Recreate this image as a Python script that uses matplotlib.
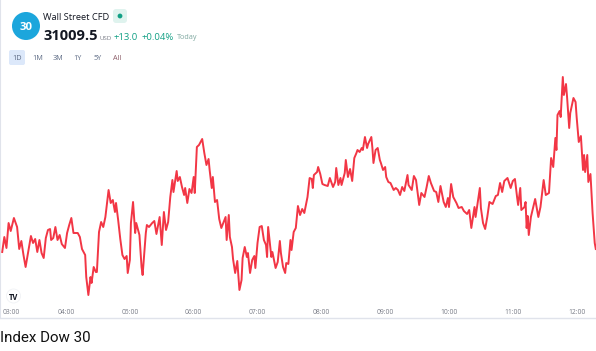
import matplotlib
matplotlib.use('Agg')
import matplotlib.pyplot as plt
from matplotlib.patches import Circle, FancyBboxPatch

# minutes after 03:00
times = [0,2,4,6,8,11,14,16,18,20,22,25,27,29,31,33,35,37,39,41,43,45,46,48,50,52,54,56,59,61,63,65,67,71,73,75,78,79,81,83,84,86,88,89,91,93,95,97,98,100,
         102,104,106,107,109,111,113,115,117,118,120,121,123,125,126,129,131,132,135,136,138,141,143,145,148,150,152,154,156,158,160,161,164,165,167,169,171,172,174,176,178,180,181,183,185,188,190,192,194,195,
         197,198,200,202,204,206,210,211,213,214,216,217,219,221,223,225,226,228,230,231,233,235,237,238,240,242,244,246,248,249,250,251,253,254,257,259,261,262,264,266,267,269,271,272,274,276,278,280,282,284,
         287,289,291,292,293,296,297,299,301,303,306,308,309,311,313,314,316,318,319,322,323,325,327,329,331,333,334,336,338,339,341,343,344,347,348,349,351,353,355,356,358,360,361,363,365,368,370,372,374,376,
         378,381,382,385,387,389,392,394,397,399,401,403,406,408,410,412,415,417,419,420,422,424,427,429,432,434,437,439,441,444,445,449,450,452,454,456,458,461,464,466,468,470,472,475,478,480,482,484,485,487,
         488,491,492,493,494,495,497,499,501,504,506,509,511,514,516,518,520,521,522,524,525,527,528,530,531,533,534,537,539,540,542,544,546,547,548,550,551,553,555,557,558]
prices = [31006,31021,31010,31035,31027,31040,31031,31009,31017,31003,30991,31010,31022,31015,31019,31006,31018,31005,31000,31020,31028,31029,31018,31020,31031,31018,31023,31014,31010,31025,31033,31040,31025,31025,31021,31009,31003,30981,30963,30981,30975,30991,30986,30986,31026,31036,31031,31041,31050,31068,
          31055,31058,31046,31055,31038,31019,31003,30999,31002,30985,30998,31035,31056,31025,31035,31023,30991,30983,31025,31033,31031,31035,31037,31024,31041,31013,31046,31028,31036,31061,31078,31066,31087,31077,31081,31071,31063,31070,31055,31069,31065,31081,31065,31111,31113,31119,31105,31093,31099,31088,
          31070,31081,31056,31058,31039,31030,31041,31018,31043,31021,31011,30999,30985,30997,30968,30978,31000,31011,31001,31005,30985,30998,31002,30990,31015,31031,31032,31018,31013,31001,31031,31021,31001,31006,30990,30996,31017,31005,30991,30985,30995,30994,31018,31008,31026,31030,31052,31043,31049,31045,
          31061,31080,31079,31070,31083,31086,31091,31084,31074,31073,31072,31080,31077,31071,31076,31090,31073,31080,31073,31085,31098,31081,31089,31077,31100,31105,31108,31106,31110,31108,31121,31110,31114,31121,31110,31095,31108,31110,31098,31095,31088,31091,31081,31076,31075,31068,31070,31068,31063,31071,
          31067,31083,31073,31068,31082,31078,31053,31065,31061,31071,31082,31075,31067,31066,31056,31072,31056,31051,31060,31051,31074,31061,31055,31050,31051,31047,31044,31048,31030,31051,31041,31070,31050,31035,31029,31041,31056,31054,31062,31063,31075,31066,31077,31080,31070,31077,31079,31061,31053,31070,
          31048,31051,31056,31030,31042,31023,31041,31050,31059,31041,31051,31078,31063,31065,31100,31091,31120,31108,31143,31147,31141,31181,31163,31174,31161,31130,31145,31160,31156,31141,31116,31122,31088,31103,31086,31103,31076,31084,31045,31015,31009]
tick_times = [0,60,120,180,240,300,360,420,480,540]
tick_labels = ['03:00','04:00','05:00','06:00','07:00','08:00','09:00','10:00','11:00','12:00']
range_buttons = ['1D','1M','3M','1Y','5Y','All']

W, H = 596, 351
fig = plt.figure(figsize=(W/100, H/100), dpi=100)
plt.rcParams['font.family'] = ['Open Sans', 'DejaVu Sans']

ax = fig.add_axes([0, (H-318)/H, 1, 318/H])
ax.plot(times, prices, color='#F23645', lw=1.4, solid_joinstyle='round')
ax.set_xlim(-2.07, 558.2)
ax.set_ylim(30940, 31258)
for s in ['top','right']:
    ax.spines[s].set_visible(False)
ax.spines['left'].set_color('#E0E3EB')
ax.spines['left'].set_linewidth(1.5)
ax.spines['bottom'].set_color('#E0E3EB')
ax.spines['bottom'].set_linewidth(1)
ax.set_yticks([])
ax.set_xticks(tick_times)
ax.set_xticklabels(tick_labels, fontsize=4.9, color='#787B86')
ax.get_xticklabels()[0].set_ha('left')
ax.tick_params(axis='x', length=0, pad=-6.5)

# overlay in pixels for the header
ov = fig.add_axes([0, 0, 1, 1])
ov.set_xlim(0, W)
ov.set_ylim(H, 0)
ov.axis('off')
ov.patch.set_alpha(0)

ov.add_patch(Circle((26, 26), 14, color='#1CA6DC', lw=0))
ov.text(26, 26.5, '30', color='white', fontsize=8.2, fontweight='bold', ha='center', va='center_baseline')
ov.text(43, 16, 'Wall Street CFD', color='#131722', fontsize=6.7, va='center_baseline')
ov.add_patch(FancyBboxPatch((115, 11), 10, 10, boxstyle='round,pad=2,rounding_size=3', fc='#DFF3EE', ec='none'))
ov.add_patch(Circle((120, 16), 2.4, color='#12A085', lw=0))
ov.text(44, 34, '31009.5', color='#131722', fontsize=10.5, fontweight='bold', va='center_baseline')
ov.text(99, 37.5, 'USD', color='#787B86', fontsize=4.4, va='center_baseline')
ov.text(114, 36, '+13.0', color='#12A085', fontsize=6.8, fontweight='medium', va='center_baseline')
ov.text(142, 36, '+0.04%', color='#12A085', fontsize=6.8, fontweight='medium', va='center_baseline')
ov.text(177, 36.5, 'Today', color='#7FA8A0', fontsize=5.2, va='center_baseline')

ov.add_patch(FancyBboxPatch((11, 52), 12, 11, boxstyle='round,pad=2,rounding_size=2', fc='#DCE8FA', ec='none'))
for x, lab in zip([17, 38, 58, 78, 97.5, 117.5], range_buttons):
    col = '#8A5A66' if lab == 'All' else '#5D6B85'
    ov.text(x, 58, lab, color=col, fontsize=5.2, ha='center', va='center_baseline')

ov.add_patch(Circle((13.5, 296), 7, fc='white', ec='#F0F2F5', lw=0.6))
ov.text(13.5, 296, 'TV', color='#131722', fontsize=5.5, fontweight='bold', ha='center', va='center_baseline')

ov.text(0.5, 337, 'Index Dow 30', family='Roboto', color='#111111', fontsize=10.9, va='center_baseline')

fig.savefig('out.png', dpi=100)
